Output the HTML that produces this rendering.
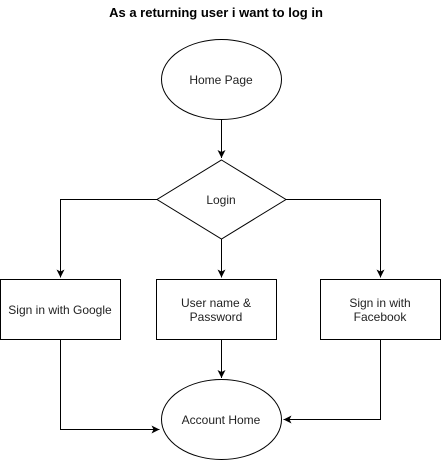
<!DOCTYPE html>
<html><head><meta charset="utf-8"><style>
html,body{margin:0;padding:0;background:#fff;width:441px;height:460px;overflow:hidden}
svg{display:block}
text{font-family:"Liberation Sans",Arial,sans-serif;font-size:12px;fill:#222}
</style></head><body>
<svg width="441" height="460" viewBox="0 0 441 460" xmlns="http://www.w3.org/2000/svg">
<defs><marker id="a" markerWidth="10" markerHeight="10" refX="8" refY="4" orient="auto" markerUnits="userSpaceOnUse"><path d="M0,0 L8,4 L0,8 L2,4 Z" fill="#000"/></marker></defs>
<text x="216" y="17" text-anchor="middle" style="font-weight:bold;font-size:13px;fill:#000">As a returning user i want to log in</text>
<g fill="none" stroke="#000" stroke-width="1">
<ellipse cx="221.5" cy="79.5" rx="60" ry="40"/>
<polygon points="221.5,160 286,199.5 221.5,239 157,199.5"/>
<rect x="0.5" y="279.5" width="120" height="60"/>
<rect x="156.5" y="279.5" width="120" height="60"/>
<rect x="320.5" y="279.5" width="120" height="60"/>
<ellipse cx="221.5" cy="419.5" rx="60" ry="40"/>
<path d="M221.5,119.5 V158" marker-end="url(#a)"/>
<path d="M157,199.5 H60.5 V277.5" marker-end="url(#a)"/>
<path d="M286,199.5 H380.5 V277.5" marker-end="url(#a)"/>
<path d="M221.5,239 V277.5" marker-end="url(#a)"/>
<path d="M221.5,339.5 V378" marker-end="url(#a)"/>
<path d="M60.5,339.5 V429.5 H159.5" marker-end="url(#a)"/>
<path d="M380.5,339.5 V419.5 H283.5" marker-end="url(#a)"/>
</g>
<text x="221" y="84" text-anchor="middle">Home Page</text>
<text x="221" y="204" text-anchor="middle">Login</text>
<text x="60" y="314" text-anchor="middle">Sign in with Google</text>
<text x="216" y="307" text-anchor="middle">User name &amp;</text>
<text x="216" y="321" text-anchor="middle">Password</text>
<text x="380" y="307" text-anchor="middle">Sign in with</text>
<text x="380" y="321" text-anchor="middle">Facebook</text>
<text x="221" y="424" text-anchor="middle">Account Home</text>
</svg>
</body></html>
